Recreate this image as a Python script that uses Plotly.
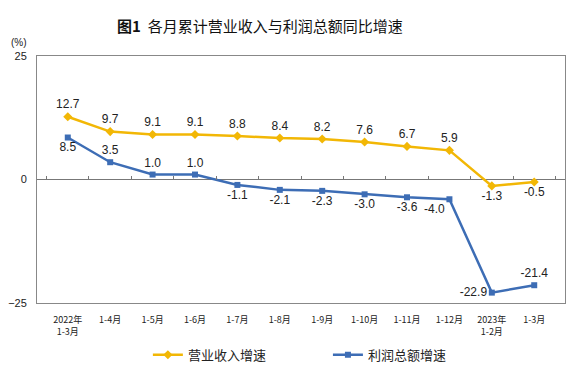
import plotly.graph_objects as go

categories = ["2022年<br>1-3月", "1-4月", "1-5月", "1-6月", "1-7月", "1-8月", "1-9月",
              "1-10月", "1-11月", "1-12月", "2023年<br>1-2月", "1-3月"]
revenue = [12.7, 9.7, 9.1, 9.1, 8.8, 8.4, 8.2, 7.6, 6.7, 5.9, -1.3, -0.5]
profit = [8.5, 3.5, 1.0, 1.0, -1.1, -2.1, -2.3, -3.0, -3.6, -4.0, -22.9, -21.4]
y_ticks = [-25, 0, 25]

rev_pos = ["top center"] * 10 + ["bottom center"] * 2
prof_pos = ["bottom center", "top center", "top center", "top center"] + ["bottom center"] * 5 + \
           ["bottom left", "middle left", "top center"]

YELLOW = "#F2B705"
BLUE = "#3D6DB5"
FONT = "Liberation Sans, Noto Sans CJK SC, sans-serif"

fig = go.Figure()
fig.add_trace(go.Scatter(
    x=categories, y=revenue, name="营业收入增速", mode="lines+markers+text",
    line=dict(color=YELLOW, width=2.5), marker=dict(symbol="diamond", size=7, color=YELLOW),
    text=[f"{v:.1f}" for v in revenue], textposition=rev_pos,
    textfont=dict(size=12, color="#222222", family=FONT), cliponaxis=False,
    legend="legend"))
fig.add_trace(go.Scatter(
    x=categories, y=profit, name="利润总额增速", mode="lines+markers+text",
    line=dict(color=BLUE, width=2.5), marker=dict(symbol="square", size=6, color=BLUE),
    text=[f"{v:.1f}" for v in profit], textposition=prof_pos,
    textfont=dict(size=12, color="#222222", family=FONT), cliponaxis=False,
    xaxis="x2", legend="legend2"))

legend_common = dict(orientation="h", xanchor="left", y=-0.21, yanchor="middle",
                     itemwidth=30, bgcolor="rgba(0,0,0,0)",
                     font=dict(size=13, family="Noto Sans CJK SC", color="#222222"))

fig.update_layout(
    width=579, height=372,
    margin=dict(l=29, r=22, t=48, b=77, autoexpand=False),
    paper_bgcolor="white", plot_bgcolor="white",
    font=dict(family=FONT, color="#222222"),
    title=dict(text="<b>图1</b>  各月累计营业收入与利润总额同比增速", x=0.435, xanchor="center",
               y=0.949, yanchor="middle", font=dict(size=15, color="#111111", family="Noto Sans CJK SC")),
    showlegend=True,
    legend=dict(x=0.21, **legend_common),
    legend2=dict(x=0.551, **legend_common),
    xaxis=dict(type="category", showgrid=False, showline=True, linecolor="#888888", linewidth=1,
               mirror=True, ticks="", tickfont=dict(size=9, family="Noto Sans CJK SC", color="#222222"),
               ticklabelstandoff=8, zeroline=False),
    xaxis2=dict(type="category", overlaying="x", matches="x", anchor="free", position=0.5,
                showline=False, showgrid=False, ticks="inside", ticklen=4, tickcolor="#777777",
                tickson="boundaries", showticklabels=False, side="bottom"),
    yaxis=dict(range=[-25, 25], tickvals=y_ticks, showgrid=False, showline=True, linecolor="#888888",
               linewidth=1, mirror=True, ticks="", zeroline=True, zerolinecolor="#777777", zerolinewidth=1,
               ticklabelstandoff=7, tickfont=dict(size=11, color="#222222")),
    annotations=[dict(text="(%)", xref="paper", yref="paper", x=-0.035, y=1.055, showarrow=False,
                      xanchor="center", yanchor="middle", font=dict(size=10, color="#222222"))],
)

fig.write_html("out.html")
